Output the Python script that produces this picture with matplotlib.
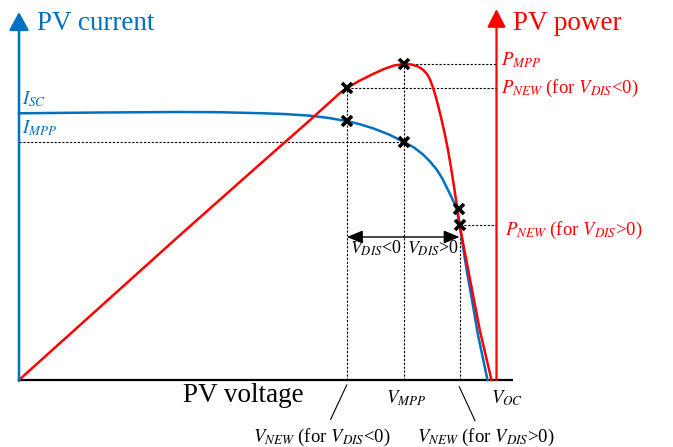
import matplotlib
matplotlib.use("Agg")
import matplotlib.pyplot as plt

plt.rcParams["font.family"] = ["Liberation Serif", "DejaVu Serif"]
plt.rcParams["mathtext.fontset"] = "stix"

# curve points (arbitrary units, origin at the axes corner)
v_current = [0, 81, 158, 200, 241, 265, 291, 310, 321, 328, 340, 354, 370, 385, 395, 404, 411,
             418, 423, 428, 432, 436, 438, 440, 442, 444.5, 448, 453, 459, 468.5]
current = [266.7, 267.5, 268, 267.8, 266.8, 266, 264.3, 262, 260, 259, 256, 251.7, 245.5, 238,
           232.5, 225.5, 218.5, 210, 202, 192, 184, 175, 168.5, 159, 146, 130, 108, 80, 45, 0]

v_power = [0, 80, 160, 240, 290, 321, 328, 340, 354, 365, 375, 385, 393, 399, 404, 408, 411,
           414, 417, 420, 423, 426, 429, 432, 435, 438, 440.5, 445, 450, 455, 461, 472.5]
power = [0, 72, 144, 215, 259, 287, 292, 299, 306, 311, 314.5, 316, 315.4, 313.5, 310.3, 306, 300.5,
         292.5, 282.5, 271, 258.5, 245, 230, 212.5, 193.5, 173.5, 156, 132, 106, 80, 49, 0]

# operating points
v_new_neg, v_mpp, v_new_pos = 328, 385, 440.5
p_new_neg, p_mpp, p_new_pos = 292, 316, 155
i_new_neg, i_mpp, i_new_pos = 259, 238, 171

x_red_axis = 477.5
x_end = 494

BLUE = "#0070C0"
RED = "#FF0000"

fig = plt.figure(figsize=(6.73, 4.47), dpi=100)
ax = fig.add_axes([0, 0, 1, 1])
ax.set_xlim(-19, 654)
ax.set_ylim(-67, 380)
ax.axis("off")

# axes
ax.plot([0, x_end], [0, 0], color="black", lw=1.6, solid_capstyle="butt")
ax.annotate("", xy=(0, 368), xytext=(0, -1),
            arrowprops=dict(arrowstyle="-|>,head_length=0.55,head_width=0.3", color=BLUE, lw=1.8,
                            shrinkA=0, shrinkB=0, mutation_scale=20))
ax.annotate("", xy=(x_red_axis, 371), xytext=(x_red_axis, 0),
            arrowprops=dict(arrowstyle="-|>,head_length=0.55,head_width=0.28", color=RED, lw=1.6,
                            shrinkA=0, shrinkB=0, mutation_scale=20))

# dashed guides
dash = dict(color="black", lw=0.8, ls=(0, (2, 1.5)))
ax.plot([v_new_neg, v_new_neg], [0, p_new_neg], **dash)
ax.plot([v_mpp, v_mpp], [0, p_mpp], **dash)
ax.plot([v_new_pos, v_new_pos], [0, p_new_pos], **dash)
ax.plot([v_mpp, x_red_axis], [p_mpp, p_mpp], **dash)
ax.plot([v_new_neg, x_red_axis], [p_new_neg, p_new_neg], **dash)
ax.plot([0, v_mpp], [i_mpp, i_mpp], **dash)
ax.plot([v_new_pos, x_red_axis], [p_new_pos, p_new_pos], **dash)

# curves
ax.plot(v_current, current, color=BLUE, lw=1.8, solid_joinstyle="round")
ax.plot(v_power, power, color=RED, lw=1.8, solid_joinstyle="round")

# markers
mk = dict(marker="x", color="black", ms=7, mew=2.6, ls="none", zorder=5)
ax.plot([v_new_neg, v_mpp, v_new_pos], [p_new_neg, p_mpp, p_new_pos], **mk)
ax.plot([v_new_neg, v_mpp, v_new_pos - 1], [i_new_neg, i_mpp, i_new_pos], **mk)

# perturbation arrows
arr = dict(arrowstyle="-|>,head_length=0.6,head_width=0.25", color="black", lw=1.0,
           shrinkA=0, shrinkB=0, mutation_scale=16)
ax.annotate("", xy=(v_new_neg, 143), xytext=(v_mpp, 143), arrowprops=arr)
ax.annotate("", xy=(v_new_pos, 143), xytext=(v_mpp, 143), arrowprops=arr)
ax.text(331.5, 126.5, r"$V_{DIS}$<0", fontsize=13, va="baseline", ha="left")
ax.text(388, 126.5, r"$V_{DIS}$>0", fontsize=13, va="baseline", ha="left")

# leader lines under the voltage axis
ax.plot([327.7, 311.7], [-5, -39.3], color="black", lw=0.8)
ax.plot([440.3, 456], [-6.7, -40.7], color="black", lw=0.8)

# titles
ax.text(18, 349.5, "PV current", color=BLUE, fontsize=19.5, va="baseline")
ax.text(494, 349.5, "PV power", color=RED, fontsize=19.5, va="baseline")
ax.text(164, -21.7, "PV voltage", color="black", fontsize=19.5, va="baseline")

# axis labels
fs = 13.5
ax.text(3, 276, r"$I_{SC}$", color=BLUE, fontsize=fs, va="baseline")
ax.text(3, 246.7, r"$I_{MPP}$", color=BLUE, fontsize=fs, va="baseline")
ax.text(481.7, 315, r"$P_{MPP}$", color=RED, fontsize=fs, va="baseline")
ax.text(481.7, 287.3, r"$P_{NEW}$ (for $V_{DIS}$<0)", color=RED, fontsize=fs, va="baseline")
ax.text(486, 145, r"$P_{NEW}$ (for $V_{DIS}$>0)", color=RED, fontsize=fs, va="baseline")
ax.text(367, -23.3, r"$V_{MPP}$", color="black", fontsize=fs, va="baseline")
ax.text(471.7, -23.3, r"$V_{OC}$", color="black", fontsize=fs, va="baseline")
ax.text(234.3, -61.7, r"$V_{NEW}$ (for $V_{DIS}$<0)", color="black", fontsize=fs, va="baseline")
ax.text(397.7, -61.7, r"$V_{NEW}$ (for $V_{DIS}$>0)", color="black", fontsize=fs, va="baseline")

fig.savefig("out.png", dpi=100)
